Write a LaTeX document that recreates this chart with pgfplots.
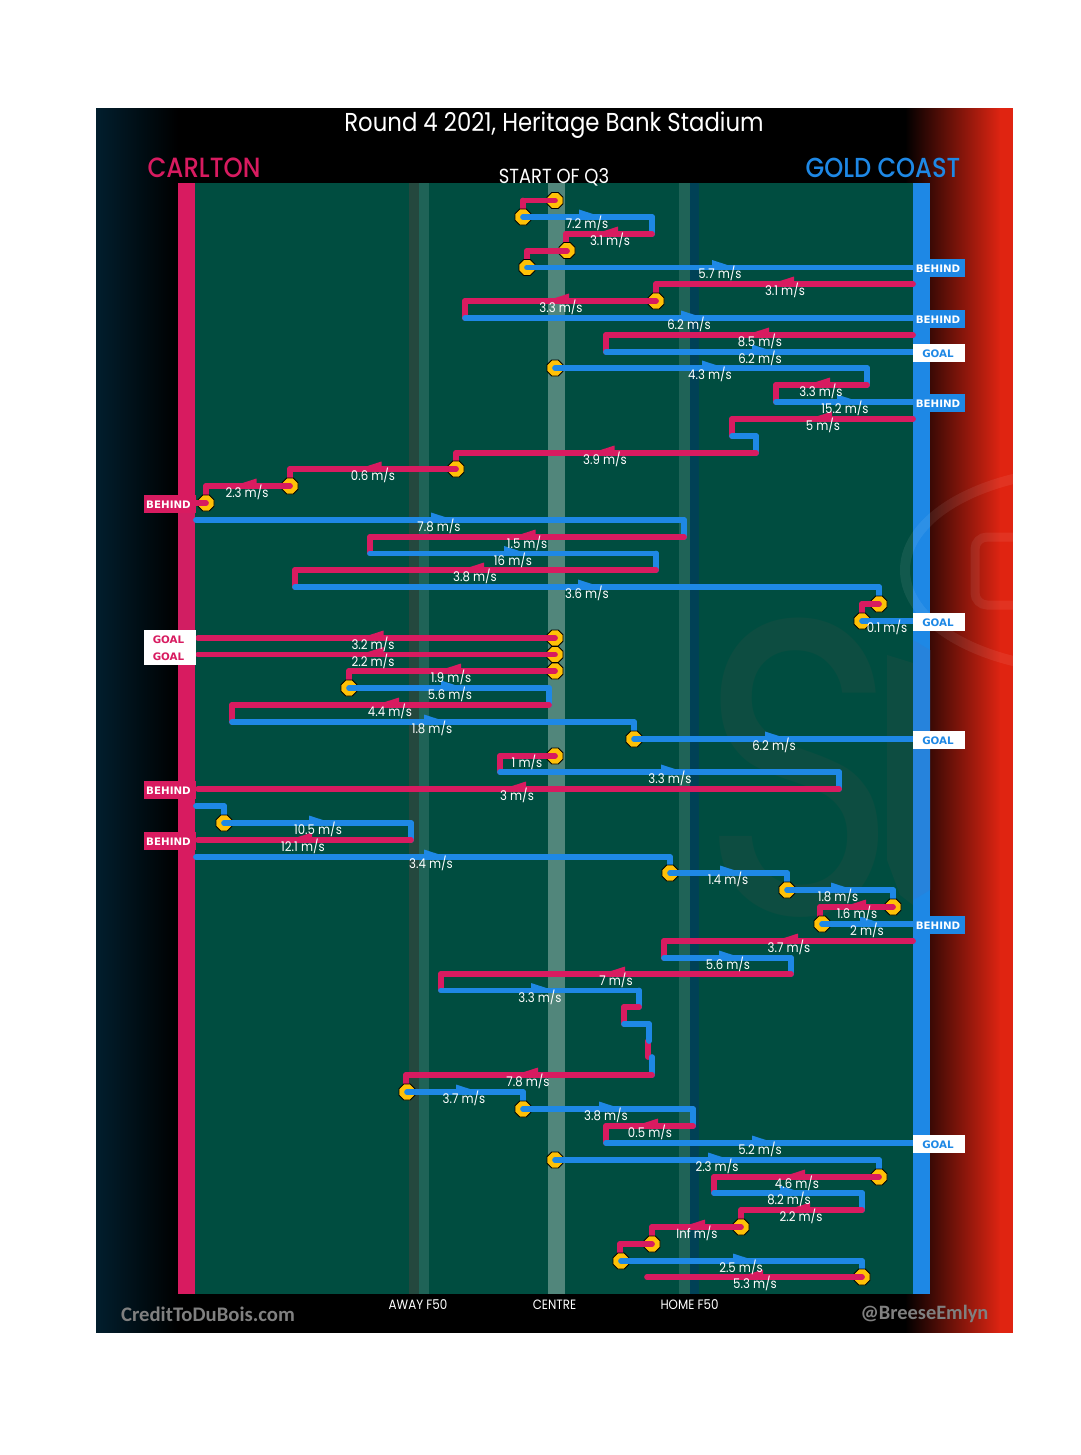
\documentclass[border=0pt]{standalone}
\usepackage{pgfplots}
\pgfplotsset{compat=1.18}
\usepackage{fontspec}
\setmainfont[FakeStretch=0.88]{Poppins}
\newfontfamily\headfont[FakeStretch=0.88]{Poppins Medium}
\newfontfamily\wmfont{Poppins}
\newfontfamily\tagfont{DejaVu Sans}
\newfontfamily\footfont{Carlito}

\definecolor{carlton}{HTML}{D81B60}
\definecolor{carltonb}{HTML}{D11E62}
\definecolor{gold}{HTML}{1E88E5}
\definecolor{goldb}{HTML}{2683DC}
\definecolor{field}{HTML}{004D40}
\definecolor{marker}{HTML}{FFC107}
\definecolor{navy}{HTML}{011E2D}
\definecolor{redend}{HTML}{DD2412}
\definecolor{redflat}{HTML}{E02411}
\definecolor{awaydark}{HTML}{24483E}
\definecolor{bandlight}{HTML}{1F6357}
\definecolor{centreb}{HTML}{51867B}
\definecolor{homedark}{HTML}{004156}
\definecolor{wmark}{HTML}{0D4D41}

% little flags that sit on top of each line
\pgfdeclareplotmark{flagR}{
  \pgfpathmoveto{\pgfpoint{0pt}{0pt}}
  \pgfpathlineto{\pgfpoint{0pt}{7.5pt}}
  \pgfpathlineto{\pgfpoint{17pt}{2pt}}
  \pgfpathlineto{\pgfpoint{17pt}{0pt}}
  \pgfpathclose\pgfusepathqfill}
\pgfdeclareplotmark{flagL}{
  \pgfpathmoveto{\pgfpoint{0pt}{0pt}}
  \pgfpathlineto{\pgfpoint{0pt}{7.5pt}}
  \pgfpathlineto{\pgfpoint{-17pt}{2pt}}
  \pgfpathlineto{\pgfpoint{-17pt}{0pt}}
  \pgfpathclose\pgfusepathqfill}
\pgfdeclareplotmark{oct}{
  \pgfpathmoveto{\pgfpoint{8pt}{3.3pt}}
  \pgfpathlineto{\pgfpoint{3.3pt}{8pt}}
  \pgfpathlineto{\pgfpoint{-3.3pt}{8pt}}
  \pgfpathlineto{\pgfpoint{-8pt}{3.3pt}}
  \pgfpathlineto{\pgfpoint{-8pt}{-3.3pt}}
  \pgfpathlineto{\pgfpoint{-3.3pt}{-8pt}}
  \pgfpathlineto{\pgfpoint{3.3pt}{-8pt}}
  \pgfpathlineto{\pgfpoint{8pt}{-3.3pt}}
  \pgfpathclose\pgfusepathqfillstroke}

\newcommand{\tagr}[4]{\node[fill=#2,text=#3,minimum width=52pt,minimum height=18pt,inner sep=0pt,font=\tagfont\bfseries\fontsize{10.3}{10.3}\selectfont] at (axis cs:939,#1) {\raisebox{-0.6pt}{\hspace*{-2pt}#4}};}
\newcommand{\tagl}[4]{\node[fill=#2,text=#3,minimum width=52pt,minimum height=18pt,inner sep=0pt,font=\tagfont\bfseries\fontsize{10.3}{10.3}\selectfont] at (axis cs:170,#1) {\raisebox{-0.6pt}{\hspace*{-3pt}#4}};}

\pgfplotsset{
  band/.style={draw=none,fill=#1},
  run/.style={color=#1,line width=5.7pt,line cap=round,line join=round,no markers,empty line=jump},
}

\begin{document}
\begin{tikzpicture}
\begin{axis}[
  scale only axis,width=752pt,height=1111pt,
  xmin=178,xmax=930,ymin=183,ymax=1294,y dir=reverse,
  clip=false,clip mode=individual,axis on top,
  axis line style={draw=none},tick style={draw=none},
  ytick=\empty,
  xtick={418,554.5,689.5},xticklabels={AWAY F50,CENTRE,HOME F50},
  xticklabel style={text=white,font=\fontsize{13.5}{13.5}\selectfont,yshift=-2pt},
]
% page and black panel
\addplot[band=white] coordinates {(0,0) (1080,0) (1080,1455) (0,1455)} --cycle;
\addplot[band=black] coordinates {(96,108) (1013,108) (1013,1333) (96,1333)} --cycle;
\addplot[draw=none,left color=navy,right color=black] coordinates {(96,108) (178,108) (178,1333) (96,1333)} --cycle;
\addplot[draw=none,left color=black,right color=redend] coordinates {(905,108) (1000,108) (1000,1333) (905,1333)} --cycle;
\addplot[band=redflat] coordinates {(1000,108) (1013,108) (1013,1333) (1000,1333)} --cycle;
% trim the shadings, which run a little over their edges
\addplot[band=white] coordinates {(0,0) (1080,0) (1080,108) (0,108)} --cycle;
\addplot[band=white] coordinates {(0,1333) (1080,1333) (1080,1455) (0,1455)} --cycle;
\addplot[band=white] coordinates {(0,0) (96,0) (96,1455) (0,1455)} --cycle;
\addplot[band=white] coordinates {(1013,0) (1080,0) (1080,1455) (1013,1455)} --cycle;

% field, bands, goal lines
\addplot[band=field] coordinates {(178,183) (930,183) (930,1294) (178,1294)} --cycle;
\addplot[band=awaydark] coordinates {(409,183) (419,183) (419,1294) (409,1294)} --cycle;
\addplot[band=bandlight] coordinates {(419,183) (429,183) (429,1294) (419,1294)} --cycle;
\addplot[band=centreb] coordinates {(548,183) (565,183) (565,1294) (548,1294)} --cycle;
\addplot[band=bandlight] coordinates {(679,183) (690,183) (690,1294) (679,1294)} --cycle;
\addplot[band=homedark] coordinates {(690,183) (699,183) (699,1294) (690,1294)} --cycle;
% faint SUNS watermark
\node[text=wmark,font=\wmfont\fontsize{420}{420}\selectfont,xscale=0.8,inner sep=0pt] at (axis cs:799,768) {S};
\addplot[band=wmark] coordinates {(887,655) (913,663) (913,905) (900,895) (887,860)} --cycle;
\addplot[band=carlton] coordinates {(178,183) (195,183) (195,1294) (178,1294)} --cycle;
\addplot[band=gold] coordinates {(913,183) (930,183) (930,1294) (913,1294)} --cycle;
\addplot[band=goldb] coordinates {(913,640) (930,650) (930,890) (913,900)} --cycle;
\addplot[band=carltonb] coordinates {(178,510) (195,510) (195,630) (178,630)} --cycle;
% faint club oval on the right
\begin{scope}
\clip (axis cs:880,440) rectangle (axis cs:1013,700);
\draw[white,opacity=0.07,line width=10pt] (axis cs:1090,570) ellipse [x radius=185pt,y radius=100pt];
\draw[white,opacity=0.07,line width=9pt,rounded corners=12pt] (axis cs:975,537) rectangle (axis cs:1060,605);
\end{scope}

% connectors between rows
\addplot[run=carlton] table {
523 200.5
523 217

566 234
566 250

527 251
527 267

656 284
656 301

465 301
465 318

606 335
606 352

776 385
776 402

732 419
732 436

456 453
456 469

290 469
290 486

206 486
206 503

370 537
370 553

295 570
295 587

862 604
862 621

349 671
349 688

232 705
232 722

500 756
500 772

820 907
820 924

664 941
664 958

441 974
441 990

624 1007
624 1024

648 1041
648 1057

406 1075
406 1092

606 1126
606 1143

714 1177
714 1193

741 1210
741 1227

652 1227
652 1244

620 1244
620 1261
};
\addplot[run=gold] table {
652 217
652 234

867 368
867 385

756 436
756 453

684 520
684 537

656 553.5
656 570

879 587
879 604

549 688
549 705

634 722
634 739

839 772
839 789

224 806
224 823

411 823
411 840

670 857
670 873

787 873
787 890

893 890
893 907

791 958
791 974

639 990.5
639 1007

649 1024
649 1041

652 1057
652 1075

523 1092
523 1109

693 1109
693 1126

879 1160
879 1177

862 1193
862 1210

862 1261
862 1277
};

% stoppages
\addplot[only marks,mark=oct,mark options={fill=marker,draw=black,line width=0.9pt}] coordinates {
(555,200.5) (523,217) (567,250.5) (527,267.5) (656,301) (555,368) (456,469) (290,486) (206,503)
(879,604) (862,621) (555,638) (555,654.5) (555,671) (349,688) (634,739) (555,756) (224,823)
(670,873) (787,890) (893,907) (822,924) (407,1092) (523,1109) (555,1160) (879,1177) (741,1227)
(652,1244) (621,1261) (862,1277)};

% horizontal runs
\addplot[run=gold] table {
523 217
652 217

527 267.5
913 267.5

465 318
913 318

606 352
913 352

555 368
867 368

776 402
913 402

732 436
756 436

196 520
684 520

370 553.5
656 553.5

295 587
879 587

862 621
913 621

349 688
549 688

232 722
634 722

634 739
913 739

500 772
839 772

196 806
224 806

224 823
411 823

196 857
670 857

670 873
787 873

787 890
893 890

822 924
913 924

664 958
791 958

441 990.5
639 990.5

624 1024
649 1024

407 1092
523 1092

523 1109
693 1109

606 1143
913 1143

555 1160
879 1160

714 1193
862 1193

621 1261
862 1261
};
\addplot[run=carlton] table {
523 200.5
555 200.5

566 234
652 234

527 251
567 251

656 284
913 284

465 301
656 301

606 335
913 335

776 385
867 385

732 419
913 419

456 453
756 453

290 469
456 469

206 486
290 486

196 503
206 503

370 537
684 537

295 570
656 570

862 604
879 604

198 638
555 638

198 654.5
555 654.5

349 671
555 671

232 705
549 705

500 756
555 756

198 789
839 789

198 840
411 840

820 907
893 907

664 941
913 941

441 974
791 974

624 1007
639 1007

406 1075
652 1075

606 1126
693 1126

714 1177
879 1177

741 1210
862 1210

652 1227
741 1227

620 1244
652 1244

647 1277
862 1277
};

% direction flags
\addplot[only marks,mark=flagR,color=gold] coordinates {
(579,217) (712,267.5) (681,318) (752,352) (702,368) (837,402) (431,520) (504,553.5) (578,587)
(441,688) (424,722) (765,739) (661,772) (309,823) (424,857) (720,873) (831,890) (860,924)
(719,958) (531,990.5) (456,1092) (599,1109) (752,1143) (708,1160) (780,1193) (733,1261)};
\addplot[only marks,mark=flagL,color=carlton] coordinates {
(618,234) (794,284) (569,301) (769,335) (830,385) (832,419) (614.5,453) (381.5,469) (256.5,486)
(535.5,537) (484,570) (383.5,638) (383.5,654.5) (461,671) (399,705) (526,789) (312,840) (866,907)
(798,941) (625,974) (538,1075) (658,1126) (805,1177) (810,1210) (705,1227) (763,1277)};

% end-of-chain tags
\tagr{268.3}{gold}{white}{BEHIND}
\tagr{319.3}{gold}{white}{BEHIND}
\tagr{353.3}{white}{gold}{GOAL}
\tagr{403.3}{gold}{white}{BEHIND}
\tagr{622.3}{white}{gold}{GOAL}
\tagr{740.3}{white}{gold}{GOAL}
\tagr{925.3}{gold}{white}{BEHIND}
\tagr{1144.3}{white}{gold}{GOAL}
\tagl{504.3}{carlton}{white}{BEHIND}
\tagl{639.3}{white}{carlton}{GOAL}
\tagl{656.3}{white}{carlton}{GOAL}
\tagl{790.3}{carlton}{white}{BEHIND}
\tagl{841.3}{carlton}{white}{BEHIND}

% speed labels
\addplot[only marks,no markers,point meta=explicit symbolic,
  nodes near coords={\pgfplotspointmeta\ m/s},
  nodes near coords style={anchor=center,inner sep=0pt,text=white,yshift=0.6pt,font=\fontsize{13.3}{13.3}\selectfont},
] table[x=x,y=y,meta=v] {
x y v
587 224 7.2
610 241 3.1
720 274 5.7
785 291 3.1
561 308 3.3
689 325 6.2
760 342 8.5
760 359 6.2
710 375 4.3
821 392 3.3
845 409 15.2
823 426 5
605 460 3.9
373 476 0.6
247 493 2.3
439 527 7.8
527 544 1.5
513 561 16
475 577 3.8
587 594 3.6
887 628 0.1
373 645 3.2
373 662 2.2
451 678 1.9
450 695 5.6
390 712 4.4
432 729 1.8
774 746 6.2
527 763 1
670 779 3.3
517 796 3
318 830 10.5
303 847 12.1
431 864 3.4
728 880 1.4
838 897 1.8
857 914 1.6
867 931 2
789 948 3.7
728 965 5.6
616 981 7
540 998 3.3
528 1082 7.8
464 1099 3.7
606 1116 3.8
650 1133 0.5
760 1150 5.2
717 1167 2.3
797 1184 4.6
789 1200 8.2
801 1217 2.2
697 1234 Inf
741 1268 2.5
755 1284 5.3
};

% titles
\node[text=white,font=\fontsize{25.9}{25.9}\selectfont] at (axis cs:554,125) {Round 4 2021, Heritage Bank Stadium};
\node[text=white,font=\fontsize{20.4}{20.4}\selectfont] at (axis cs:554,177) {START OF Q3};
\node[text=carlton,font=\headfont\fontsize{27.8}{27.8}\selectfont] at (axis cs:204,168) {CARLTON};
\node[text=gold,font=\headfont\fontsize{27.5}{27.5}\selectfont] at (axis cs:883,168) {GOLD COAST};
\node[text=gray,font=\footfont\bfseries\fontsize{20.7}{20.7}\selectfont] at (axis cs:208,1314) {CreditToDuBois.com};
\node[text=gray,font=\footfont\bfseries\fontsize{20.4}{20.4}\selectfont] at (axis cs:924.5,1314) {@BreeseEmlyn};
\end{axis}
\end{tikzpicture}
\end{document}
